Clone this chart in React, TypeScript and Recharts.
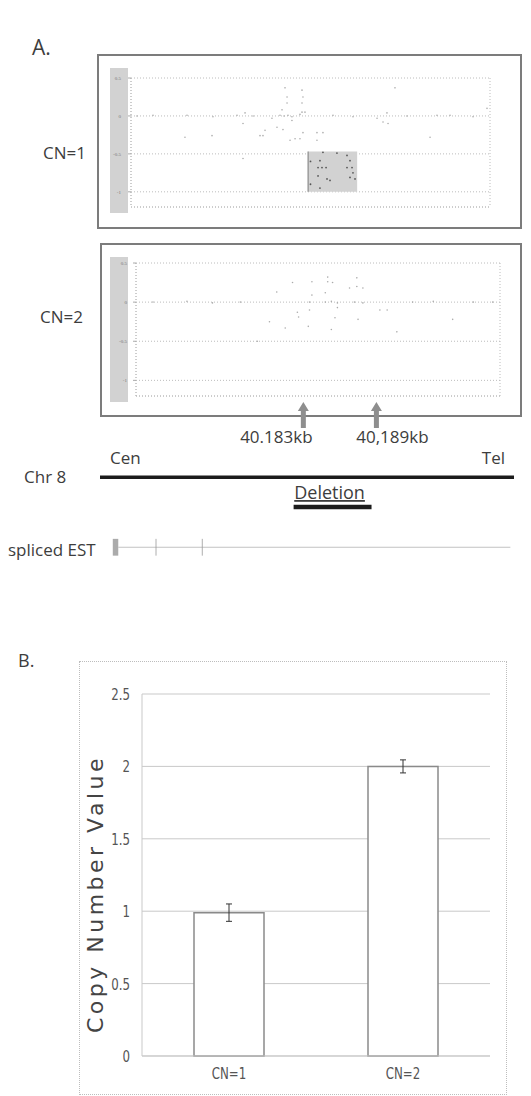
import React from 'react';
import {
  ScatterChart,
  Scatter,
  ComposedChart,
  BarChart,
  Bar,
  ErrorBar,
  XAxis,
  YAxis,
  CartesianGrid,
  ReferenceArea,
  ReferenceLine,
} from 'recharts';

type Pt = [number, number];

// genomic position (kb) and log2 ratio axes for the array CGH panels
const kbDomain = [40169, 40199];
const kbTicks = [40172, 40178, 40184, 40190, 40196];
const ratioDomain = [-1.2, 0.5];
const ratioTicks = [0.5, 0, -0.5, -1];

// CN=1 sample, probes outside the deleted segment [kb, ratio]
const cn1Probes: Pt[] = [
  [40181.87, 0.37], [40183.29, 0.34], [40182.04, 0.25], [40183.37, 0.25], [40183.29, 0.17],
  [40182.04, 0.17], [40181.62, 0.08], [40183.29, 0.05], [40183.54, 0.05], [40181.45, 0.01],
  [40181.79, 0.0], [40182.12, 0.01], [40182.45, -0.01], [40183.12, 0.02], [40190.39, 0.04],
  [40190.48, -0.1], [40189.56, -0.03], [40180.78, -0.03], [40182.45, -0.06], [40181.2, -0.15],
  [40181.7, -0.18], [40183.37, -0.22], [40184.54, -0.22], [40185.04, -0.22], [40180.2, -0.19],
  [40180.03, -0.26], [40182.29, -0.32], [40182.71, -0.3], [40183.12, -0.3], [40184.54, -0.32],
  [40191.06, 0.37], [40178.36, -0.56], [40178.53, 0.04], [40178.36, -0.1], [40173.68, 0.01],
  [40175.85, -0.01], [40177.86, 0.01], [40179.78, -0.26], [40190.06, -0.08], [40194.57, 0.01],
  [40197.58, -0.01], [40198.75, 0.1], [40173.51, -0.28], [40175.77, -0.26], [40179.2, 0.0],
  [40185.88, 0.01], [40187.55, -0.01], [40192.06, 0.0], [40193.99, -0.28], [40195.66, 0.01],
  [40169.5, 0.0], [40170.84, 0.01],
];

// CN=1 sample, probes inside the deletion
const cn1Deleted: Pt[] = [
  [40185.04, -0.48], [40186.21, -0.49], [40187.05, -0.52], [40184.79, -0.59], [40187.3, -0.59],
  [40184.63, -0.68], [40184.96, -0.68], [40185.3, -0.68], [40187.05, -0.68], [40187.47, -0.68],
  [40187.55, -0.75], [40184.63, -0.79], [40185.38, -0.83], [40185.63, -0.85], [40187.3, -0.81],
  [40187.72, -0.83], [40184.79, -0.95], [40184.0, -0.6], [40184.0, -0.9],
];
const cn1Segment = { kb: [40183.8, 40187.9], ratio: [-1.0, -0.47] };

// CN=2 sample
const cn2Probes: Pt[] = [
  [40184.8, 0.32], [40184.8, 0.26], [40181.9, 0.25], [40183.5, 0.26], [40187.7, 0.18],
  [40180.6, 0.13], [40183.5, 0.09], [40184.6, 0.12], [40184.6, 0.0], [40185.1, 0.01],
  [40185.6, -0.01], [40187.0, 0.0], [40187.7, -0.01], [40183.3, 0.0], [40185.6, -0.07],
  [40189.7, -0.1], [40182.3, -0.13], [40182.4, -0.19], [40183.3, -0.1], [40180.0, -0.25],
  [40181.3, -0.33], [40185.4, -0.2], [40187.3, -0.22], [40185.1, -0.35], [40183.2, -0.31],
  [40179.0, -0.5], [40190.5, -0.38], [40187.2, 0.31], [40170.4, 0.0], [40173.2, 0.01],
  [40175.3, -0.01], [40177.6, 0.0], [40189.1, -0.1], [40191.8, 0.0], [40193.5, 0.01],
  [40195.1, -0.22], [40196.8, 0.0], [40198.4, 0.0], [40186.6, 0.18], [40185.2, 0.25],
  [40187.2, 0.2],
];

// chromosome map
const breakpoints = [40183, 40189];
const breakpointLabels = ['40.183kb', '40,189kb'];
const chrSpan = [40166.3, 40200.3];
const deletionSpan = [40182.2, 40188.6];
const estSpan = [40167.8, 40200.0];
const estExon = [40167.35, 40167.8];
const estMarks = [40170.9, 40174.7];

// panel B
const cnCategories = ['CN=1', 'CN=2'];
const cnMeans = [0.99, 2.0];
const cnErrors = [0.06, 0.045];
const cnTicks = [0, 0.5, 1, 1.5, 2, 2.5];

const FONT = "'Open Sans', 'Noto Sans', sans-serif";
const NARROW = "'Liberation Sans Narrow', 'DejaVu Sans Condensed', sans-serif";
const INK = '#3d3d3d';
const TRACK = { arrow: 0.4, chr: 4.7, del: 6.4, est: 8.7, half: 0.48 };
const labelDx = [-27, 16];

const toPoint = ([x, y]: Pt) => ({ x, y });

const dot = (fill: string, r: number) => (p: any) => (
  <circle cx={p.cx} cy={p.cy} r={r} fill={fill} />
);

const BreakpointArrow = (p: any) => {
  const { cx, cy, payload } = p;
  const pts = [
    [cx, cy], [cx + 5.5, cy + 9], [cx + 2.5, cy + 9], [cx + 2.5, cy + 26],
    [cx - 2.5, cy + 26], [cx - 2.5, cy + 9], [cx - 5.5, cy + 9],
  ].map((q) => q.join(',')).join(' ');
  return (
    <g>
      <polygon points={pts} fill="#8e8e8e" />
      <text x={cx + payload.dx} y={cy + 41} textAnchor="middle" fontSize={17} fill={INK} fontFamily={FONT}>
        {payload.label}
      </text>
    </g>
  );
};

interface PanelProps {
  probes: Pt[];
  deleted?: Pt[];
  width: number;
  height: number;
  yAxisWidth: number;
  xAxisHeight: number;
  tickMargin: number;
}

const ProbePanel = ({ probes, deleted, width, height, yAxisWidth, xAxisHeight, tickMargin }: PanelProps) => (
  <ScatterChart width={width} height={height} margin={{ top: 18, right: 10, bottom: 0, left: 0 }}>
    <CartesianGrid stroke="#bcbcbc" strokeDasharray="1 2" />
    <XAxis
      type="number"
      dataKey="x"
      domain={kbDomain}
      ticks={kbTicks}
      tick={false}
      tickLine={false}
      height={xAxisHeight}
      axisLine={{ stroke: '#bcbcbc', strokeDasharray: '1 2' }}
      allowDataOverflow
    />
    <YAxis
      type="number"
      dataKey="y"
      domain={ratioDomain}
      ticks={ratioTicks}
      width={yAxisWidth}
      tickSize={3}
      tickMargin={tickMargin}
      tick={{ fontSize: 5, fill: '#777' }}
      tickLine={{ stroke: '#aaa' }}
      axisLine={{ stroke: '#bcbcbc', strokeDasharray: '1 2' }}
      allowDataOverflow
    />
    {deleted && (
      <ReferenceArea
        x1={cn1Segment.kb[0]}
        x2={cn1Segment.kb[1]}
        y1={cn1Segment.ratio[0]}
        y2={cn1Segment.ratio[1]}
        fill="#d2d2d2"
        fillOpacity={1}
        stroke="none"
      />
    )}
    {deleted && (
      <ReferenceLine
        segment={[
          { x: cn1Segment.kb[0], y: cn1Segment.ratio[0] },
          { x: cn1Segment.kb[0], y: cn1Segment.ratio[1] },
        ]}
        stroke="#8a8a8a"
        strokeWidth={1.2}
      />
    )}
    <Scatter data={probes.map(toPoint)} shape={dot('#ababab', 0.8)} isAnimationActive={false} />
    {deleted && (
      <Scatter data={deleted.map(toPoint)} shape={dot('#555', 0.9)} isAnimationActive={false} />
    )}
  </ScatterChart>
);

const ChromosomeMap = () => {
  const arrows = breakpoints.map((x, i) => ({ x, y: TRACK.arrow, label: breakpointLabels[i], dx: labelDx[i] }));
  return (
    <ComposedChart width={531} height={175} margin={{ top: 0, right: 17, bottom: 0, left: 100 }}>
      <XAxis type="number" dataKey="x" domain={chrSpan} hide allowDataOverflow />
      <YAxis type="number" dataKey="y" domain={[0, 10]} reversed hide allowDataOverflow />
      <ReferenceLine
        y={TRACK.chr}
        stroke="#1c1c1c"
        strokeWidth={3.5}
        label={(p: any) => {
          const vb = p.viewBox || { x: 100, y: 82, width: 414 };
          return (
            <g fontSize={17} fill={INK} fontFamily={FONT}>
              <text x={vb.x + 10} y={vb.y - 13}>Cen</text>
              <text x={vb.x + vb.width - 9} y={vb.y - 13} textAnchor="end">Tel</text>
            </g>
          );
        }}
      />
      <ReferenceLine
        segment={[{ x: deletionSpan[0], y: TRACK.del }, { x: deletionSpan[1], y: TRACK.del }]}
        stroke="#1c1c1c"
        strokeWidth={4.5}
        label={(p: any) => {
          const vb = p.viewBox || { x: 293, y: 112, width: 79 };
          return (
            <text
              x={vb.x + vb.width / 2 - 3}
              y={vb.y - 8}
              textAnchor="middle"
              fontSize={18}
              fill={INK}
              fontFamily={FONT}
              style={{ textDecoration: 'underline' }}
            >
              Deletion
            </text>
          );
        }}
      />
      <ReferenceLine
        segment={[{ x: estSpan[0], y: TRACK.est }, { x: estSpan[1], y: TRACK.est }]}
        stroke="#b4b4b4"
        strokeWidth={0.8}
      />
      {estMarks.map((x) => (
        <ReferenceLine
          key={x}
          segment={[{ x, y: TRACK.est - TRACK.half }, { x, y: TRACK.est + TRACK.half }]}
          stroke="#9a9a9a"
          strokeWidth={0.8}
        />
      ))}
      <ReferenceArea
        x1={estExon[0]}
        x2={estExon[1]}
        y1={TRACK.est - TRACK.half}
        y2={TRACK.est + TRACK.half}
        fill="#ababab"
        fillOpacity={1}
        stroke="none"
      />
      <Scatter data={arrows} dataKey="y" shape={BreakpointArrow} isAnimationActive={false} />
    </ComposedChart>
  );
};

const narrowText = (x: number, y: number, anchor: 'end' | 'middle', value: any) => (
  <text
    transform={`translate(${x},${y}) scale(0.82,1)`}
    textAnchor={anchor}
    dominantBaseline="central"
    fontSize={16}
    fill="#555"
    fontFamily={NARROW}
  >
    {value}
  </text>
);

const CopyNumberBars = () => {
  const data = cnCategories.map((name, i) => ({ name, value: cnMeans[i], err: cnErrors[i] }));
  return (
    <BarChart width={428} height={434} data={data} margin={{ top: 33, right: 17, bottom: 0, left: 0 }} barSize={70}>
      <CartesianGrid vertical={false} stroke="#c9c9c9" />
      <XAxis
        dataKey="name"
        height={39}
        interval={0}
        axisLine={{ stroke: '#c9c9c9' }}
        tickLine={false}
        tickSize={0}
        tickMargin={0}
        tick={(p: any) => narrowText(p.x, p.y + 17, 'middle', p.payload.value)}
      />
      <YAxis
        width={63}
        domain={[0, 2.5]}
        ticks={cnTicks}
        axisLine={{ stroke: '#c9c9c9' }}
        tickLine={false}
        tickSize={0}
        tickMargin={12}
        tick={(p: any) => narrowText(p.x, p.y, 'end', p.payload.value)}
        label={(p: any) => {
          const vb = p.viewBox || { x: 0, y: 33, width: 63, height: 362 };
          const x = vb.x + 24;
          const y = vb.y + vb.height / 2 + 19;
          return (
            <text
              x={x}
              y={y}
              transform={`rotate(-90 ${x} ${y})`}
              textAnchor="middle"
              fontSize={22}
              letterSpacing={3.5}
              fill="#444"
              fontFamily="'DejaVu Sans', sans-serif"
            >
              Copy Number Value
            </text>
          );
        }}
      />
      <Bar dataKey="value" fill="#fff" stroke="#8a8a8a" strokeWidth={1.5} isAnimationActive={false}>
        <ErrorBar dataKey="err" width={3} stroke="#333" strokeWidth={1} />
      </Bar>
    </BarChart>
  );
};

const abs = (left: number, top: number, extra: React.CSSProperties = {}): React.CSSProperties => ({
  position: 'absolute',
  left,
  top,
  ...extra,
});

export default function App() {
  return (
    <div style={{ position: 'absolute', left: 0, top: 0, width: 531, height: 1096, background: '#fff', overflow: 'hidden' }}>
      {/* panel A, CN=1 */}
      <div style={abs(97, 54, { width: 425, height: 175, border: '2px solid #7c7c7c', boxSizing: 'border-box' })} />
      <div style={abs(110, 68, { width: 18, height: 145, background: '#d2d2d2' })} />
      <div style={abs(100, 60)}>
        <ProbePanel probes={cn1Probes} deleted={cn1Deleted} width={400} height={160} yAxisWidth={31} xAxisHeight={13} tickMargin={7} />
      </div>

      {/* panel A, CN=2 */}
      <div style={abs(100, 243, { width: 422, height: 174, border: '2px solid #7c7c7c', boxSizing: 'border-box' })} />
      <div style={abs(110, 257, { width: 18, height: 145, background: '#d2d2d2' })} />
      <div style={abs(100, 245)}>
        <ProbePanel probes={cn2Probes} width={410} height={165} yAxisWidth={36} xAxisHeight={14} tickMargin={6} />
      </div>

      <div style={abs(0, 395)}>
        <ChromosomeMap />
      </div>

      {/* panel B */}
      <div style={abs(79, 661, { width: 428, height: 434, border: '1px dotted #bdbdbd', boxSizing: 'border-box' })} />
      <div style={abs(79, 661)}>
        <CopyNumberBars />
      </div>

      <svg width={531} height={1096} style={abs(0, 0, { pointerEvents: 'none' })}>
        <g fill={INK} fontFamily={FONT}>
          <text x={32} y={55} fontSize={21}>A.</text>
          <text x={43} y={159} fontSize={17}>CN=1</text>
          <text x={40} y={323} fontSize={17}>CN=2</text>
          <text x={24} y={483} fontSize={17}>Chr 8</text>
          <text x={8} y={556} fontSize={17}>spliced EST</text>
          <text x={18} y={667} fontSize={18}>B.</text>
        </g>
      </svg>
    </div>
  );
}
